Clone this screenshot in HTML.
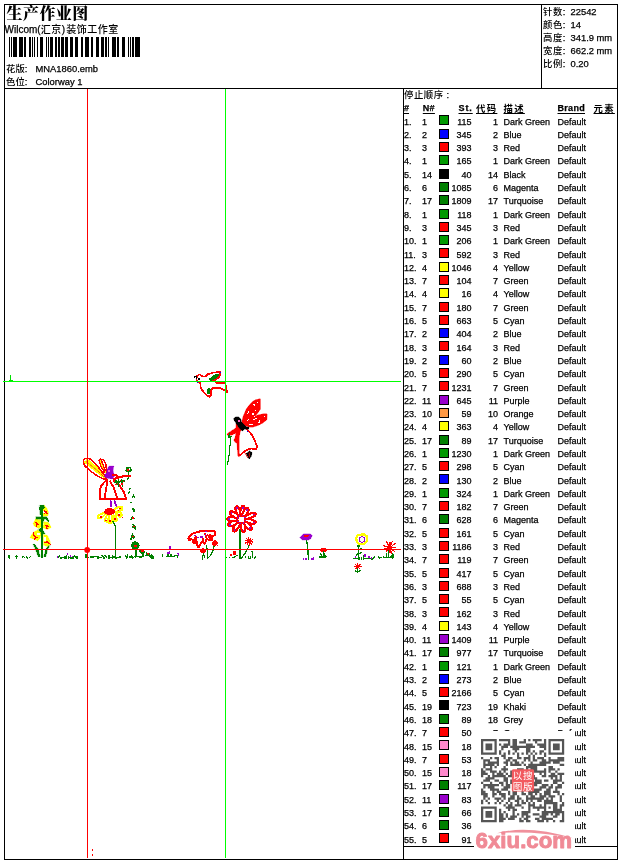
<!DOCTYPE html>
<html lang="zh"><head><meta charset="utf-8"><title>生产作业图</title>
<style>
html,body{margin:0;padding:0;background:#fff}
body{width:620px;height:860px;position:relative;overflow:hidden;font-family:"Liberation Sans","Noto Sans CJK SC",sans-serif;font-size:9px;color:#000;-webkit-text-stroke:0.25px #000}
.abs{position:absolute;white-space:nowrap;line-height:1}
.cj{font-family:"Liberation Sans","Noto Sans CJK SC",sans-serif;font-weight:500;-webkit-text-stroke:0}
.cj b{font-weight:400;font-family:"Liberation Sans",sans-serif;-webkit-text-stroke:0.25px #000}
#title{-webkit-text-stroke:0;left:6.6px;top:5.8px;font-size:16px;font-weight:900;letter-spacing:0.4px;font-family:"Liberation Serif","Noto Serif CJK SC",serif}
.r{position:absolute;left:403px;width:214px;height:13px;line-height:13px;white-space:nowrap}
.r span{position:absolute;top:0}
.c1{left:1px}.c2{left:19px}
.sw{position:absolute;left:36px;top:-0.15px;width:8px;height:8px;border:1px solid #000}
.c3{right:145.5px}.c4{right:119px}.c5{left:100.5px}.c6{left:154.5px}
.h{font-weight:bold;text-decoration:underline;text-underline-offset:2px;text-decoration-thickness:1px}
.hb{font-weight:700;letter-spacing:1.3px;font-size:9.4px;text-underline-offset:1.2px}
svg{position:absolute;left:0;top:0}
</style></head><body>
<svg width="620" height="860" viewBox="0 0 620 860">
<g shape-rendering="crispEdges" fill="#000">
<rect x="4" y="4" width="614" height="1"/><rect x="4" y="859" width="614" height="1"/>
<rect x="4" y="4" width="1" height="856"/><rect x="617" y="4" width="1" height="856"/>
<rect x="4" y="88" width="614" height="1"/><rect x="403" y="88" width="1" height="772"/>
<rect x="541" y="4" width="1" height="85"/><rect x="403" y="846" width="214" height="1"/>
<rect x="9" y="37" width="1.3" height="19.6"/><rect x="11.2" y="37" width="0.9" height="19.6"/><rect x="12.8" y="37" width="4.1" height="19.6"/><rect x="19" y="37" width="4.1" height="19.6"/><rect x="24" y="37" width="2" height="19.6"/><rect x="29" y="37" width="2" height="19.6"/><rect x="32" y="37" width="1" height="19.6"/><rect x="33.9" y="37" width="1" height="19.6"/><rect x="37" y="37" width="1" height="19.6"/><rect x="39.9" y="37" width="3" height="19.6"/><rect x="46" y="37" width="1" height="19.6"/><rect x="47.9" y="37" width="1" height="19.6"/><rect x="49.9" y="37" width="3.1" height="19.6"/><rect x="55" y="37" width="2" height="19.6"/><rect x="58.1" y="37" width="2" height="19.6"/><rect x="61.1" y="37" width="3" height="19.6"/><rect x="65.2" y="37" width="3" height="19.6"/><rect x="70.2" y="37" width="3" height="19.6"/><rect x="74.8" y="37" width="3.1" height="19.6"/><rect x="81.1" y="37" width="1.7" height="19.6"/><rect x="85" y="37" width="4" height="19.6"/><rect x="91" y="37" width="2" height="19.6"/><rect x="96.4" y="37" width="2.6" height="19.6"/><rect x="101" y="37" width="2.9" height="19.6"/><rect x="105" y="37" width="2" height="19.6"/><rect x="108" y="37" width="0.9" height="19.6"/><rect x="112.1" y="37" width="3.9" height="19.6"/><rect x="117.2" y="37" width="1.8" height="19.6"/><rect x="122.3" y="37" width="2.8" height="19.6"/><rect x="128" y="37" width="0.9" height="19.6"/><rect x="130.1" y="37" width="0.8" height="19.6"/><rect x="131.8" y="37" width="0.9" height="19.6"/><rect x="133.4" y="37" width="1" height="19.6"/><rect x="135.3" y="37" width="4.8" height="19.6"/>
</g>
<!-- BIRD -->
<g id="bird" shape-rendering="crispEdges" fill="none" stroke-linejoin="round" stroke-linecap="round">
<path d="M209.2 379.4L214.7 375L218.3 374.4L217.9 377L214 380L210.5 380.2z" fill="#008000" stroke="#008000" stroke-width="1"/>
<path d="M207.3 389.7L209.2 388.2L210.7 390L210.3 394L207.8 393.3z" fill="#008000" stroke="#008000" stroke-width="1"/>
<path d="M196.5 379.5L196.9 375.9L199.4 374.4L203.4 376.6L205.6 376.2L208.1 374.1L213.2 372.6L220.1 371.9L220.5 374.4L219 377.3L215.4 379.9L213.2 380.6M215.4 382.6L217.6 383.2L224.1 383M226.3 385.3V389.7L227.6 392.2L224.1 390L219.8 387.9H212.5L211 390.4V394.8L209.6 396.9L207.4 395.8L202.3 390.4L200.5 386.8V383.1L197.3 382.1L196.5 379.5" stroke="#ff0000" stroke-width="1.7"/>
<path d="M194.4 377.3L195.8 376.2L196.9 378.4" stroke="#000" stroke-width="1.2"/>
<rect x="198.4" y="378" width="1.6" height="1.5" fill="#000"/>
<rect x="220" y="372" width="1" height="1" fill="#0000ff"/><rect x="197" y="382" width="1" height="1" fill="#0000ff"/>
</g>
<!-- FAIRY 2 -->
<g id="fairy2" shape-rendering="crispEdges" stroke-linejoin="round" stroke-linecap="round">
<path d="M259.8 399L255.1 400.1L251.9 402.3L246.8 408.4L243.5 416L242.1 421.1L242.4 424L245 425.5L249.7 426.9H252.9L258.4 425.1L262.7 422.9L266.7 419.7L266.9 414H263.5L257.7 415.3L254.5 416.6L256.9 413.9L260 409.5z" fill="#ff0000" stroke="#ff0000" stroke-width="0.8"/>
<g fill="#fff"><rect x="257" y="402" width="1" height="1"/><rect x="253" y="404" width="2" height="1"/><rect x="254" y="405" width="1" height="1"/><rect x="255" y="410" width="1" height="1"/><rect x="248" y="411" width="1" height="2"/><rect x="247" y="413" width="1" height="1"/><rect x="252" y="413" width="2" height="2"/><rect x="254" y="416" width="1" height="1"/><rect x="264" y="416" width="1" height="1"/><rect x="255" y="418" width="2" height="1"/><rect x="253" y="419" width="2" height="1"/><rect x="248" y="419" width="1" height="1"/><rect x="247" y="420" width="1" height="1"/><rect x="259" y="420" width="1" height="3"/><rect x="258" y="422" width="1" height="1"/><rect x="249" y="424" width="4" height="1"/></g>
<path d="M236.5 423.5L238.7 426.4L240.9 430L239.8 432.9L239.1 438V452.5L240.1 455.4L239.1 456.8L238 456.1L237.6 452.5L237.2 443L235.1 442.3L234 440.1L235.4 437.2L235.8 432.9L231.4 435.1H227.4V433.6L230.7 431.4L235.8 428.2z" fill="#ff0000" stroke="#ff0000" stroke-width="0.6"/>
<path d="M246.3 428.9L248.9 431.4L252.5 435.8L255 440.9L256.8 446L256.5 449.2L251 448.5L246 450.3L239.6 455.6" fill="none" stroke="#ff0000" stroke-width="1.7"/>
<path d="M234.1 418.2L235.9 417.1H238.8L240.6 418.9L241.3 421.9L246 426.9L248.6 427.3V429.1H244.6L242.1 430.9L240.2 429.1L236.6 424L234.4 420.4z" fill="#000" stroke="#000" stroke-width="0.6"/>
<rect x="238.4" y="420" width="2" height="2" fill="#ff66cc"/>
<path d="M246.3 453.6L249.6 451L251.8 452.5L251.4 456.1L249.6 458.6L248.1 457.9z" fill="#000" stroke="#000" stroke-width="0.6"/>
<path d="M245.2 453.2L247.8 457.6M249.3 453V456.5" fill="none" stroke="#ff0000" stroke-width="0.8"/>
<path d="M229.3 433.2L228.9 437.2L230.3 437.6V444.5L229.6 447.4L229.8 451L228.9 456.1L228.5 461.2L227.4 462.6V464.8M230.5 436.5h1.2" fill="none" stroke="#008000" stroke-width="1.2"/>
<rect x="247" y="431" width="1" height="1" fill="#0000ff"/>
</g>
<!-- FAIRY 1 -->
<g id="fairy1" shape-rendering="crispEdges" stroke-linejoin="round" stroke-linecap="round" fill="none">
<path d="M85.3 461.9L104.8 477.8M87 460L103 473.5M100.5 461.5L105 472" stroke="#ffff00" stroke-width="2.6" stroke-dasharray="2.2 1.2"/>
<path d="M83.5 459.7L84.9 458.5H88.9L92.4 460.5L97.7 466.3L102.2 472.1L105.7 476.5L106.2 478.7H102.6L96.9 475.6L90.6 471.2L85.3 466.3L83.4 462.8z" stroke="#ff0000" stroke-width="1.6"/>
<path d="M86 461.5L98 471L104 477" stroke="#ff0000" stroke-width="0.8" stroke-dasharray="3 2"/>
<path d="M98.6 460.5L100.4 459.2L103.5 459.7L105.7 463.6L106.6 470.7L106.2 472.1M99.1 461L100.9 466.3L104.4 472.1M101.7 461L105.3 470.7" stroke="#ff0000" stroke-width="1.4"/>
<path d="M109.3 466.3H113.7L113 470.3L114.2 476.5L112.4 478.7L107.5 478.3L104.4 476.5L106.6 472.5L107.5 469z" fill="#9900cc" stroke="#9900cc" stroke-width="0.6"/>
<rect x="108.4" y="470" width="1.6" height="1.5" fill="#ff66cc"/>
<path d="M112.8 474.6L116.4 475.6L117 477.5M113.7 479L122.6 476.4L129.7 476" stroke="#ff0000" stroke-width="2.2"/>
<path d="M106.6 479.6L101.3 485.8L99.7 491.2L100 499.4H126.4L123.9 492L119 484.9L113.7 480.5M107.5 480.5L104.4 499.1M110.2 481.4L114.2 488.5L117.3 499.1" stroke="#ff0000" stroke-width="1.9"/>
<path d="M115 482.5L124 481M118.5 479.5V486M121.5 480L122.5 486M116 481L117 484.5" stroke="#008000" stroke-width="1.5"/>
<g fill="#ff0000"><rect x="115" y="483.5" width="1.5" height="1.5"/><rect x="121" y="482.5" width="2" height="2"/><rect x="119.5" y="480" width="1.3" height="1.3"/><rect x="123" y="480.5" width="1.3" height="1.5"/></g>
<path d="M126 470.5L127 468L130 467.5L131 469.5L130.5 471.5M126.5 471h4M128.4 471.2V474.7M128.6 478.2L127.6 479.3" stroke="#008000" stroke-width="1.6"/>
<rect x="127.2" y="469" width="2" height="1.8" fill="#ff0000"/>
<path d="M110.6 501.2L110.9 506.5M114.4 501.2L117.1 507" stroke="#9900cc" stroke-width="1.8"/>
<path d="M110.8 508h1.2M117.4 507.7h1.2" stroke="#ff9933" stroke-width="1"/>
</g>
<!-- SUNFLOWER -->
<g id="sunflower" shape-rendering="crispEdges" stroke-linejoin="round" stroke-linecap="round" fill="none">
<g stroke="#ffff00" stroke-width="2">
<path d="M105 512.5L98.5 515L97.5 518.5L101.5 518L105.5 514"/>
<path d="M107 514.5L104.5 521L108 522L109 515"/>
<path d="M109.5 515.5L109 523H111.5L112 516"/>
<path d="M113.5 515L114 521.5L117 520.5L115.5 514"/>
<path d="M115.5 512.5L119.5 517L122 515.5L120.5 512.5L116 511.5"/>
<path d="M115 509L119 506.5H122.3V509.8L117.5 511"/>
</g>
<ellipse cx="109.6" cy="511.6" rx="5.4" ry="3.4" fill="#ff0000"/>
<g fill="#ff0000"><rect x="100" y="516" width="1.8" height="1.6"/><rect x="105" y="519.5" width="2" height="1.8"/><rect x="109" y="520" width="2" height="1.8"/><rect x="114" y="518" width="2" height="1.8"/><rect x="118" y="514" width="2" height="1.8"/><rect x="119.3" y="507.5" width="1.8" height="1.6"/><rect x="122" y="517" width="1" height="1"/><rect x="118" y="510" width="1" height="1"/></g>
<path d="M112.6 521.2L115.3 525.6L115.7 530.5V556.2" stroke="#008000" stroke-width="1.3"/>
</g>
<!-- FALLING LEAVES + ROSE -->
<g id="leaves" shape-rendering="crispEdges" stroke-linecap="round" fill="none" stroke="#008000" stroke-width="1.5">
<path d="M129.3 489.3L130.3 488.5M128.4 493L129.5 492M132.3 497L133.5 495.5L134.3 496.8M130.3 502.5h1.2M132.5 508.5L134 510L134.2 511.6"/>
<path d="M131 519.5L132.5 517L134.5 518.5M131.5 518.5h3M133 524.5L135 527.5L135.5 529.5M133 527h2M131 539L132.5 534.5L134 538M131.8 537h2.5"/>
<circle cx="135.3" cy="545.6" r="3.5" fill="#008000"/>
<path d="M135.7 549V556.8M139.5 551L144.5 551.5M141 552.8h3M146.3 553L149.5 554M147 555h2.5M151.5 555L152.3 556.5" stroke-width="1.6"/>
</g>
<g fill="#ff0000" shape-rendering="crispEdges"><rect x="132.3" y="517.3" width="1.6" height="1.6"/><rect x="133.3" y="525.8" width="1.6" height="1.6"/><rect x="132" y="535.8" width="1.6" height="1.6"/><rect x="134" y="544.5" width="3" height="2.4"/><rect x="141" y="550" width="3" height="2"/><rect x="147" y="552.6" width="2.4" height="2.2"/></g>
<!-- FOXGLOVE -->
<g id="foxglove" shape-rendering="crispEdges" stroke-linejoin="round" stroke-linecap="round">
<g fill="#ffff00" stroke="#ffff00" stroke-width="0.6">
<path d="M44.2 505.2L46.6 508.1L48.6 512.9L47.8 515.7L43.4 516.1L41.4 514.5L42.2 509.7z"/>
<path d="M35.7 519L33.3 523.4L34.1 525.8L38.5 528.2L41 526.6L40.6 520.2z"/>
<path d="M44.2 521.8L48.6 522.6L51 527.4L47.4 529.4L43 527.8z"/>
<path d="M37.7 530.2L33.3 532.3L30.1 537.5L37.7 540.7L40.2 537.9L41.1 532.3z"/>
<path d="M43.8 534.7L47.4 535.5L49.8 541.1L50.6 544.4L47.4 546.4L43.8 545.2z"/>
</g>
<g fill="#fff"><rect x="43" y="510.5" width="1.6" height="2.5"/><rect x="37" y="533" width="2.5" height="2"/><rect x="44" y="537" width="2.4" height="4"/></g>
<rect x="41.4" y="505.6" width="1.7" height="52" fill="#008000"/>
<g fill="#008000" stroke="#008000" stroke-width="0.3">
<path d="M39.6 505.4H44.2L44.6 507.5L42.6 509.5L42 514.5H39.8L39.4 508z"/>
<path d="M36.2 516.5H46.4L48.8 520.5L48.4 522L45.6 519.4H44L43 523H41.5V519.4H36.2z"/>
<path d="M38.3 529.2L41.2 528L45.2 533.5L42 534.5z"/>
<path d="M33.3 544.4L34.8 544.4L38 548.5L40.3 556.5H38L36 551z"/>
<path d="M49.8 545.6L48.2 545.6L45.8 549.2L43.8 556.5H46L47.6 550z"/>
</g>
<g stroke="#ff0000" stroke-width="1.1" fill="none">
<path d="M44.4 511L45.6 512.6L44.6 513.6M46 511.5L47.2 513.8"/>
<path d="M35.6 522.4L37 523L36.6 525L36.2 527M37.6 523.6L38 524.6"/>
<path d="M45 525.2L46.6 526.2L47 528.6M47.4 525.4L48.2 526.8"/>
<path d="M33.4 533L34 535.6L36.6 537.6L37.6 537.4M34.6 539.4L35.4 538"/>
<path d="M44.4 542.7H48.2L50.4 544.4M47 541.5V542.5"/>
</g>
</g>
<!-- UMBRELLA FLOWER -->
<g id="umbrella" shape-rendering="crispEdges" stroke-linejoin="round" stroke-linecap="round" fill="none">
<path d="M188.5 538.5L189.5 536.3L192.7 533.7L198.5 531.8L203 530.5H212.7L215.3 532.1V534.4L213.3 536L211.4 536.6L212.4 538.9L211.4 540.5L208.8 540.2L207 538.5L205.6 541.8L204.3 543.7L202.4 541.1L200.4 544.4L198.5 547.3L196.9 544.4L195.6 541.5L193.6 543.4L193.3 540.5L191.4 538.9L189.5 540.2z" stroke="#ff0000" stroke-width="2"/>
<path d="M195.9 536.3L196.9 543.5M194.5 537.5L195.5 541M203 538.5L202.4 541.5M205 533.4L206.5 538M207.5 534.7L210.7 538.9M209.5 534.5L211.4 536.6" stroke="#ff0000" stroke-width="1.8"/>
<path d="M194 535.3h1.6M197.2 537.3h1.6M200.4 537h2.8M205.5 531.8h1.2M205.3 534v1.6" stroke="#9900cc" stroke-width="1.1"/>
<circle cx="214.9" cy="543.1" r="2.7" fill="#ff0000"/><rect x="217" y="545" width="1.2" height="1.2" fill="#ff0000"/>
<ellipse cx="203" cy="550.8" rx="3" ry="2.4" fill="#ff0000"/>
<path d="M206.5 545.6L207.5 550.8L207.8 555.3L207.5 558.5M214 546.3L213 550.8L210.7 555.3L208.8 557.3M203.3 553.4L204.9 557.9M202.4 556V559.8" stroke="#008000" stroke-width="1.2"/>
</g>
<!-- DAISY -->
<g id="daisy" shape-rendering="crispEdges">
<rect x="239.3" y="529" width="1.4" height="29.5" fill="#008000"/>
<g fill="#fff" stroke="#ff0000" stroke-width="2.2"><ellipse cx="238.2" cy="511.4" rx="5.4" ry="2.1" transform="rotate(-112 238.2 511.4)"/><ellipse cx="242.5" cy="511.1" rx="5.2" ry="2.1" transform="rotate(-82 242.5 511.1)"/><ellipse cx="245.4" cy="512.4" rx="4.9" ry="2.1" transform="rotate(-60 245.4 512.4)"/><ellipse cx="250.0" cy="516.0" rx="6.1" ry="2.1" transform="rotate(-21 250.0 516.0)"/><ellipse cx="250.1" cy="521.4" rx="5.8" ry="2.1" transform="rotate(13 250.1 521.4)"/><ellipse cx="247.5" cy="525.5" rx="5.5" ry="2.1" transform="rotate(45 247.5 525.5)"/><ellipse cx="243.0" cy="527.3" rx="4.9" ry="2.1" transform="rotate(79 243.0 527.3)"/><ellipse cx="236.6" cy="526.6" rx="5.5" ry="2.1" transform="rotate(123 236.6 526.6)"/><ellipse cx="233.3" cy="523.2" rx="5.7" ry="2.1" transform="rotate(155 233.3 523.2)"/><ellipse cx="232.8" cy="519.1" rx="5.5" ry="2.1" transform="rotate(-178 232.8 519.1)"/><ellipse cx="234.3" cy="514.8" rx="5.3" ry="2.1" transform="rotate(-147 234.3 514.8)"/></g>
<circle cx="241.4" cy="519.4" r="4.1" fill="#fff" stroke="#ff0000" stroke-width="2.4"/>
<g fill="#9900cc"><rect x="236.1" y="507.3" width="1.6" height="1.6"/><rect x="242.2" y="506.9" width="1.6" height="1.6"/><rect x="246.1" y="508.9" width="1.6" height="1.6"/><rect x="253.2" y="513.7" width="1.6" height="1.6"/><rect x="253.2" y="521.5" width="1.6" height="1.6"/><rect x="249.3" y="527.3" width="1.6" height="1.6"/><rect x="242.8" y="529.5" width="1.6" height="1.6"/><rect x="233.8" y="528.9" width="1.6" height="1.6"/><rect x="229.0" y="524.0" width="1.6" height="1.6"/><rect x="228.3" y="518.2" width="1.6" height="1.6"/><rect x="230.6" y="512.1" width="1.6" height="1.6"/><rect x="244.5" y="519.8" width="1.6" height="1.6"/><rect x="242.5" y="522.2" width="1.6" height="1.6"/><rect x="239.4" y="522.5" width="1.6" height="1.6"/><rect x="237.0" y="520.5" width="1.6" height="1.6"/><rect x="236.7" y="517.4" width="1.6" height="1.6"/><rect x="238.7" y="515.0" width="1.6" height="1.6"/><rect x="241.8" y="514.7" width="1.6" height="1.6"/><rect x="244.2" y="516.7" width="1.6" height="1.6"/></g>
<circle cx="249.1" cy="541.3" r="2.2" fill="#ff0000"/>
<path d="M249.1 541.3L253.5 542.2M249.1 541.3L252.1 544.6M249.1 541.3L249.6 545.8M249.1 541.3L246.9 545.2M249.1 541.3L245.0 543.2M249.1 541.3L244.7 540.4M249.1 541.3L246.1 538.0M249.1 541.3L248.6 536.8M249.1 541.3L251.3 537.4M249.1 541.3L253.2 539.4" stroke="#ff0000" stroke-width="1.0" fill="none"/>
<path d="M248.8 545.2L247.8 548.7L244.3 554.5L241 558.4" stroke="#008000" stroke-width="1.2" fill="none"/>
<rect x="233.2" y="550.8" width="2.4" height="3.8" fill="#ff0000"/><rect x="230" y="553.8" width="2" height="2.2" fill="#ff0000"/>
<path d="M226.5 557v1.4M229.5 557v1.4M231.5 557.3h3M234.5 556.8L238.5 554.8M245.3 556v2.4M248.5 556v2h2v-2M251 551.2h1.7v7.2M254.6 556.5v2M255.9 555.5v2.5" stroke="#008000" stroke-width="1" fill="none"/>
</g>
<!-- RIGHT FLOWERS -->
<g id="right" shape-rendering="crispEdges" stroke-linejoin="round" stroke-linecap="round" fill="none">
<path d="M306.6 540.2L307.3 544.4L307.9 549.5L308.4 559.8" stroke="#008000" stroke-width="1.3"/>
<path d="M300.2 537.3L303.4 534H310.5L312.1 535.6L310.5 538.9L308.9 539.8H302.4z" fill="#9900cc" stroke="#9900cc" stroke-width="0.5"/>
<path d="M303.1 537L304.7 535.3H308.9L307.6 537z" fill="#ff0000"/>
<g fill="#9900cc"><rect x="303" y="558" width="1" height="2"/><rect x="305" y="557.6" width="2" height="2"/><rect x="310.5" y="557.8" width="3" height="1.8"/><rect x="313" y="557" width="1.2" height="1.2"/></g>
<path d="M319.5 549L323.4 547.5L327.5 549L325.5 552.3H321.3z" fill="#ff0000"/>
<path d="M323.4 551.8V557.3M319.5 556.8H326M320.5 553.4L321.8 556M324.7 554L325 556.5" stroke="#008000" stroke-width="1.4"/>
<path d="M358.3 545.3V559M357.2 545.3L358.3 547.5L359.4 545.3M361 548.4h.8M360 553.5L361.4 552.4M356 555L357.5 554.2" stroke="#008000" stroke-width="1.4"/>
<path d="M361.5 534.5L357.5 535L356.2 538L356.8 542L360 544.3L364 544.3L367 541L367 536.5L364.5 534.6z" stroke="#ffff00" stroke-width="2.2" fill="#fff"/>
<circle cx="361.9" cy="539.5" r="2.7" stroke="#9900cc" stroke-width="1.2" stroke-dasharray="3.2 1.2"/>
<path d="M353.4 558.2h4.5M359.5 557.8v1.6M361.5 557.5v2M363.5 556v3M365 558.5h2.5M368 558.8h3.5M372 559.2L374.8 557M378.3 556.5L379.5 558L381 557.5M383.2 556.4v1M384 557.8H393M386.7 553.7V557.5M388.5 551.1V557.5M392.9 553.7V558M390.5 556.5L392.5 555" stroke="#008000" stroke-width="1.3"/>
<g fill="#9900cc"><rect x="355" y="556" width="1.2" height="2"/><rect x="364" y="553.8" width="1.6" height="3"/><rect x="368.2" y="556" width="2" height="2"/><rect x="370.5" y="557" width="1.6" height="1.6"/></g>
<path d="M389.7 547.7L386.5 541.3M389.7 547.7L392.3 541.3M389.7 547.7L395.5 543.2M389.7 547.7L395.5 547.4M389.7 547.7L394.8 551.6M389.7 547.7L391.6 553.5M389.7 547.7L386.5 551.3M389.7 547.7L383.2 545.5M389.7 547.7L384 549.2" stroke="#ff0000" stroke-width="1.1" fill="none"/><path d="M389.7 543V552.5" stroke="#ff0000" stroke-width="2"/>
<circle cx="357.7" cy="566.6" r="1.6" fill="#ff0000"/>
<path d="M357.7 566.6L361.3 566.6M357.7 566.6L360.2 569.1M357.7 566.6L357.7 570.2M357.7 566.6L355.2 569.1M357.7 566.6L354.1 566.6M357.7 566.6L355.2 564.1M357.7 566.6L357.7 563.0M357.7 566.6L360.2 564.1" stroke="#ff0000" stroke-width="1.0" fill="none"/>
<path d="M357.7 568.8L357.4 572.4M355.2 570.6L357.4 572.4L360.5 570.6" stroke="#008000" stroke-width="1.2"/>
</g>
<!-- GRASS LEFT -->
<g id="grass" shape-rendering="crispEdges" stroke-linecap="round" fill="none" stroke="#008000" stroke-width="1.5">
<path d="M8.5 555v3M9.8 555v3M8.5 555h1.3M8.5 558h1.3M15.5 556.5h2M16.5 555v3.5M21.5 556h2M22.5 556v1.6M24 557.5h.8M26 556.2v2M27.5 557v1.2M29.5 557.5L30.8 556" stroke-width="1"/>
<path d="M58 557L59.5 555.8M60.5 557.8h1M63 557.6h1M65 557v1M66.5 555.5v2.5M68.5 556.5v1.5M70 557.8h2M73 556.5v1.5M74.5 556L76 557.8M77 556.5v1.5"/>
<path d="M85.8 554.5v3M86.6 555L88 557.5M91 557h2.5M94 556.5h2.5M98 556.2v1.8M100 557.5h1M102 555.5L104 558M105 555.5L106.5 557.5M109 555.5v3M110.3 557.5h1.5M112.5 555.5v2.5M114 557h1.5M116 558.2L118 557.2M119.5 557.2h1"/>
<path d="M125.5 555.5L127 558M127.5 555.2v1M129.5 557h1.5M131.5 555.8L133 558M134.5 556.5h3M139 556.8h3M143 555v1M146 555.5L147.5 554.5M150 556L151.5 558.2M153 557v1.2"/>
<path d="M162.6 555.2v1.5M166.5 556.3h7.5M168 555v1.5M171 555v1.5M175 555.6h1.5M177.3 555.5v1.5"/>
</g>
<g fill="#9900cc" shape-rendering="crispEdges"><rect x="57" y="556.3" width="1.3" height="1.3"/><rect x="66.5" y="552.5" width="1.3" height="2.5"/><rect x="69.5" y="555" width="1.6" height="1.6"/><rect x="72" y="555.5" width="1.3" height="1.3"/><rect x="169.3" y="546" width="1.3" height="3.2"/><rect x="167.4" y="551.6" width="3" height="2.6"/><rect x="168.5" y="550.5" width="1.5" height="1.5"/><rect x="177" y="552.6" width="2" height="1.3"/><rect x="177.6" y="553.5" width="1.4" height="2"/></g>
<g shape-rendering="crispEdges">
<rect x="3" y="381" width="398" height="1" fill="#00ff00"/>
<rect x="225" y="89" width="1" height="769" fill="#00ff00"/>
<rect x="87" y="89" width="1" height="769" fill="#ff0000"/>
<rect x="3" y="549" width="398" height="1" fill="#ff0000"/>
<path d="M10.5 375v5M9 380.5h4" stroke="#00dd00" stroke-width="1" fill="none"/>
<rect x="92" y="849" width="1" height="2" fill="#ff0000"/><rect x="92" y="854" width="1" height="2" fill="#ff0000"/>
<circle cx="87.2" cy="550" r="2.9" fill="#ff0000" shape-rendering="auto"/>
</g>

</svg>
<div id="title" class="abs">生产作业图</div>
<div class="abs cj" style="left:4.6px;top:25px;font-size:10px"><b>Wilcom(</b><span style="letter-spacing:0.5px">汇京</span><b>)</b><span style="letter-spacing:0.5px;margin-left:1.2px">装饰工作室</span></div>
<div class="abs cj" style="left:6px;top:63.5px;font-size:9.4px">花版<b>:</b></div><div class="abs" style="left:35.5px;top:64.3px;font-size:9.4px">MNA1860.emb</div>
<div class="abs cj" style="left:6px;top:76.5px;font-size:9.4px">色位<b>:</b></div><div class="abs" style="left:35.5px;top:77.3px;font-size:9.4px">Colorway 1</div>
<div class="abs cj" style="left:543px;top:7px;font-size:9.4px;letter-spacing:0.5px">针数<b>:</b></div><div class="abs" style="left:570.5px;top:7.3px;font-size:9.4px">22542</div>
<div class="abs cj" style="left:543px;top:20px;font-size:9.4px;letter-spacing:0.5px">颜色<b>:</b></div><div class="abs" style="left:570.5px;top:20.3px;font-size:9.4px">14</div>
<div class="abs cj" style="left:543px;top:33px;font-size:9.4px;letter-spacing:0.5px">高度<b>:</b></div><div class="abs" style="left:570.5px;top:33.3px;font-size:9.4px">341.9 mm</div>
<div class="abs cj" style="left:543px;top:46px;font-size:9.4px;letter-spacing:0.5px">宽度<b>:</b></div><div class="abs" style="left:570.5px;top:46.3px;font-size:9.4px">662.2 mm</div>
<div class="abs cj" style="left:543px;top:59px;font-size:9.4px;letter-spacing:0.5px">比例<b>:</b></div><div class="abs" style="left:570.5px;top:59.3px;font-size:9.4px">0.20</div>
<div class="abs cj" style="left:404px;top:90px;font-size:9.4px;letter-spacing:0.5px">停止顺序<b> :</b></div>
<div class="abs h" style="left:404px;top:104.3px">#</div>
<div class="abs h" style="left:422.8px;top:104.3px;letter-spacing:0.3px">N#</div>
<div class="abs h" style="left:458.5px;top:104.3px;letter-spacing:0.9px">St.</div>
<div class="abs h cj hb" style="left:476px;top:103.5px">代码</div>
<div class="abs h cj hb" style="left:503.5px;top:103.5px">描述</div>
<div class="abs h" style="left:557.5px;top:104.3px;letter-spacing:0.3px">Brand</div>
<div class="abs h cj hb" style="left:593.5px;top:103.5px">元素</div>
<div class="r" style="top:115.6px"><span class="c1">1.</span><span class="c2">1</span><i class="sw" style="background:#009900"></i><span class="c3">115</span><span class="c4">1</span><span class="c5">Dark Green</span><span class="c6">Default</span></div>
<div class="r" style="top:128.9px"><span class="c1">2.</span><span class="c2">2</span><i class="sw" style="background:#0000ff"></i><span class="c3">345</span><span class="c4">2</span><span class="c5">Blue</span><span class="c6">Default</span></div>
<div class="r" style="top:142.19px"><span class="c1">3.</span><span class="c2">3</span><i class="sw" style="background:#ff0000"></i><span class="c3">393</span><span class="c4">3</span><span class="c5">Red</span><span class="c6">Default</span></div>
<div class="r" style="top:155.49px"><span class="c1">4.</span><span class="c2">1</span><i class="sw" style="background:#009900"></i><span class="c3">165</span><span class="c4">1</span><span class="c5">Dark Green</span><span class="c6">Default</span></div>
<div class="r" style="top:168.78px"><span class="c1">5.</span><span class="c2">14</span><i class="sw" style="background:#000000"></i><span class="c3">40</span><span class="c4">14</span><span class="c5">Black</span><span class="c6">Default</span></div>
<div class="r" style="top:182.08px"><span class="c1">6.</span><span class="c2">6</span><i class="sw" style="background:#008000"></i><span class="c3">1085</span><span class="c4">6</span><span class="c5">Magenta</span><span class="c6">Default</span></div>
<div class="r" style="top:195.38px"><span class="c1">7.</span><span class="c2">17</span><i class="sw" style="background:#008000"></i><span class="c3">1809</span><span class="c4">17</span><span class="c5">Turquoise</span><span class="c6">Default</span></div>
<div class="r" style="top:208.67px"><span class="c1">8.</span><span class="c2">1</span><i class="sw" style="background:#009900"></i><span class="c3">118</span><span class="c4">1</span><span class="c5">Dark Green</span><span class="c6">Default</span></div>
<div class="r" style="top:221.97px"><span class="c1">9.</span><span class="c2">3</span><i class="sw" style="background:#ff0000"></i><span class="c3">345</span><span class="c4">3</span><span class="c5">Red</span><span class="c6">Default</span></div>
<div class="r" style="top:235.26px"><span class="c1">10.</span><span class="c2">1</span><i class="sw" style="background:#009900"></i><span class="c3">206</span><span class="c4">1</span><span class="c5">Dark Green</span><span class="c6">Default</span></div>
<div class="r" style="top:248.56px"><span class="c1">11.</span><span class="c2">3</span><i class="sw" style="background:#ff0000"></i><span class="c3">592</span><span class="c4">3</span><span class="c5">Red</span><span class="c6">Default</span></div>
<div class="r" style="top:261.86px"><span class="c1">12.</span><span class="c2">4</span><i class="sw" style="background:#ffff00"></i><span class="c3">1046</span><span class="c4">4</span><span class="c5">Yellow</span><span class="c6">Default</span></div>
<div class="r" style="top:275.15px"><span class="c1">13.</span><span class="c2">7</span><i class="sw" style="background:#ff0000"></i><span class="c3">104</span><span class="c4">7</span><span class="c5">Green</span><span class="c6">Default</span></div>
<div class="r" style="top:288.45px"><span class="c1">14.</span><span class="c2">4</span><i class="sw" style="background:#ffff00"></i><span class="c3">16</span><span class="c4">4</span><span class="c5">Yellow</span><span class="c6">Default</span></div>
<div class="r" style="top:301.74px"><span class="c1">15.</span><span class="c2">7</span><i class="sw" style="background:#ff0000"></i><span class="c3">180</span><span class="c4">7</span><span class="c5">Green</span><span class="c6">Default</span></div>
<div class="r" style="top:315.04px"><span class="c1">16.</span><span class="c2">5</span><i class="sw" style="background:#ff0000"></i><span class="c3">663</span><span class="c4">5</span><span class="c5">Cyan</span><span class="c6">Default</span></div>
<div class="r" style="top:328.34px"><span class="c1">17.</span><span class="c2">2</span><i class="sw" style="background:#0000ff"></i><span class="c3">404</span><span class="c4">2</span><span class="c5">Blue</span><span class="c6">Default</span></div>
<div class="r" style="top:341.63px"><span class="c1">18.</span><span class="c2">3</span><i class="sw" style="background:#ff0000"></i><span class="c3">164</span><span class="c4">3</span><span class="c5">Red</span><span class="c6">Default</span></div>
<div class="r" style="top:354.93px"><span class="c1">19.</span><span class="c2">2</span><i class="sw" style="background:#0000ff"></i><span class="c3">60</span><span class="c4">2</span><span class="c5">Blue</span><span class="c6">Default</span></div>
<div class="r" style="top:368.22px"><span class="c1">20.</span><span class="c2">5</span><i class="sw" style="background:#ff0000"></i><span class="c3">290</span><span class="c4">5</span><span class="c5">Cyan</span><span class="c6">Default</span></div>
<div class="r" style="top:381.52px"><span class="c1">21.</span><span class="c2">7</span><i class="sw" style="background:#ff0000"></i><span class="c3">1231</span><span class="c4">7</span><span class="c5">Green</span><span class="c6">Default</span></div>
<div class="r" style="top:394.82px"><span class="c1">22.</span><span class="c2">11</span><i class="sw" style="background:#9900cc"></i><span class="c3">645</span><span class="c4">11</span><span class="c5">Purple</span><span class="c6">Default</span></div>
<div class="r" style="top:408.11px"><span class="c1">23.</span><span class="c2">10</span><i class="sw" style="background:#ff9944"></i><span class="c3">59</span><span class="c4">10</span><span class="c5">Orange</span><span class="c6">Default</span></div>
<div class="r" style="top:421.41px"><span class="c1">24.</span><span class="c2">4</span><i class="sw" style="background:#ffff00"></i><span class="c3">363</span><span class="c4">4</span><span class="c5">Yellow</span><span class="c6">Default</span></div>
<div class="r" style="top:434.7px"><span class="c1">25.</span><span class="c2">17</span><i class="sw" style="background:#008000"></i><span class="c3">89</span><span class="c4">17</span><span class="c5">Turquoise</span><span class="c6">Default</span></div>
<div class="r" style="top:448.0px"><span class="c1">26.</span><span class="c2">1</span><i class="sw" style="background:#009900"></i><span class="c3">1230</span><span class="c4">1</span><span class="c5">Dark Green</span><span class="c6">Default</span></div>
<div class="r" style="top:461.3px"><span class="c1">27.</span><span class="c2">5</span><i class="sw" style="background:#ff0000"></i><span class="c3">298</span><span class="c4">5</span><span class="c5">Cyan</span><span class="c6">Default</span></div>
<div class="r" style="top:474.59px"><span class="c1">28.</span><span class="c2">2</span><i class="sw" style="background:#0000ff"></i><span class="c3">130</span><span class="c4">2</span><span class="c5">Blue</span><span class="c6">Default</span></div>
<div class="r" style="top:487.89px"><span class="c1">29.</span><span class="c2">1</span><i class="sw" style="background:#009900"></i><span class="c3">324</span><span class="c4">1</span><span class="c5">Dark Green</span><span class="c6">Default</span></div>
<div class="r" style="top:501.18px"><span class="c1">30.</span><span class="c2">7</span><i class="sw" style="background:#ff0000"></i><span class="c3">182</span><span class="c4">7</span><span class="c5">Green</span><span class="c6">Default</span></div>
<div class="r" style="top:514.48px"><span class="c1">31.</span><span class="c2">6</span><i class="sw" style="background:#008000"></i><span class="c3">628</span><span class="c4">6</span><span class="c5">Magenta</span><span class="c6">Default</span></div>
<div class="r" style="top:527.78px"><span class="c1">32.</span><span class="c2">5</span><i class="sw" style="background:#ff0000"></i><span class="c3">161</span><span class="c4">5</span><span class="c5">Cyan</span><span class="c6">Default</span></div>
<div class="r" style="top:541.07px"><span class="c1">33.</span><span class="c2">3</span><i class="sw" style="background:#ff0000"></i><span class="c3">1186</span><span class="c4">3</span><span class="c5">Red</span><span class="c6">Default</span></div>
<div class="r" style="top:554.37px"><span class="c1">34.</span><span class="c2">7</span><i class="sw" style="background:#ff0000"></i><span class="c3">119</span><span class="c4">7</span><span class="c5">Green</span><span class="c6">Default</span></div>
<div class="r" style="top:567.66px"><span class="c1">35.</span><span class="c2">5</span><i class="sw" style="background:#ff0000"></i><span class="c3">417</span><span class="c4">5</span><span class="c5">Cyan</span><span class="c6">Default</span></div>
<div class="r" style="top:580.96px"><span class="c1">36.</span><span class="c2">3</span><i class="sw" style="background:#ff0000"></i><span class="c3">688</span><span class="c4">3</span><span class="c5">Red</span><span class="c6">Default</span></div>
<div class="r" style="top:594.26px"><span class="c1">37.</span><span class="c2">5</span><i class="sw" style="background:#ff0000"></i><span class="c3">55</span><span class="c4">5</span><span class="c5">Cyan</span><span class="c6">Default</span></div>
<div class="r" style="top:607.55px"><span class="c1">38.</span><span class="c2">3</span><i class="sw" style="background:#ff0000"></i><span class="c3">162</span><span class="c4">3</span><span class="c5">Red</span><span class="c6">Default</span></div>
<div class="r" style="top:620.85px"><span class="c1">39.</span><span class="c2">4</span><i class="sw" style="background:#ffff00"></i><span class="c3">143</span><span class="c4">4</span><span class="c5">Yellow</span><span class="c6">Default</span></div>
<div class="r" style="top:634.14px"><span class="c1">40.</span><span class="c2">11</span><i class="sw" style="background:#9900cc"></i><span class="c3">1409</span><span class="c4">11</span><span class="c5">Purple</span><span class="c6">Default</span></div>
<div class="r" style="top:647.44px"><span class="c1">41.</span><span class="c2">17</span><i class="sw" style="background:#008000"></i><span class="c3">977</span><span class="c4">17</span><span class="c5">Turquoise</span><span class="c6">Default</span></div>
<div class="r" style="top:660.74px"><span class="c1">42.</span><span class="c2">1</span><i class="sw" style="background:#009900"></i><span class="c3">121</span><span class="c4">1</span><span class="c5">Dark Green</span><span class="c6">Default</span></div>
<div class="r" style="top:674.03px"><span class="c1">43.</span><span class="c2">2</span><i class="sw" style="background:#0000ff"></i><span class="c3">273</span><span class="c4">2</span><span class="c5">Blue</span><span class="c6">Default</span></div>
<div class="r" style="top:687.33px"><span class="c1">44.</span><span class="c2">5</span><i class="sw" style="background:#ff0000"></i><span class="c3">2166</span><span class="c4">5</span><span class="c5">Cyan</span><span class="c6">Default</span></div>
<div class="r" style="top:700.62px"><span class="c1">45.</span><span class="c2">19</span><i class="sw" style="background:#000000"></i><span class="c3">723</span><span class="c4">19</span><span class="c5">Khaki</span><span class="c6">Default</span></div>
<div class="r" style="top:713.92px"><span class="c1">46.</span><span class="c2">18</span><i class="sw" style="background:#008000"></i><span class="c3">89</span><span class="c4">18</span><span class="c5">Grey</span><span class="c6">Default</span></div>
<div class="r" style="top:727.22px"><span class="c1">47.</span><span class="c2">7</span><i class="sw" style="background:#ff0000"></i><span class="c3">50</span><span class="c4">7</span><span class="c5">Green</span><span class="c6">Default</span></div>
<div class="r" style="top:740.51px"><span class="c1">48.</span><span class="c2">15</span><i class="sw" style="background:#ff88cc"></i><span class="c3">18</span><span class="c4">15</span><span class="c5">Pink</span><span class="c6">Default</span></div>
<div class="r" style="top:753.81px"><span class="c1">49.</span><span class="c2">7</span><i class="sw" style="background:#ff0000"></i><span class="c3">53</span><span class="c4">7</span><span class="c5">Green</span><span class="c6">Default</span></div>
<div class="r" style="top:767.1px"><span class="c1">50.</span><span class="c2">15</span><i class="sw" style="background:#ff88cc"></i><span class="c3">18</span><span class="c4">15</span><span class="c5">Pink</span><span class="c6">Default</span></div>
<div class="r" style="top:780.4px"><span class="c1">51.</span><span class="c2">17</span><i class="sw" style="background:#008000"></i><span class="c3">117</span><span class="c4">17</span><span class="c5">Turquoise</span><span class="c6">Default</span></div>
<div class="r" style="top:793.7px"><span class="c1">52.</span><span class="c2">11</span><i class="sw" style="background:#9900cc"></i><span class="c3">83</span><span class="c4">11</span><span class="c5">Purple</span><span class="c6">Default</span></div>
<div class="r" style="top:806.99px"><span class="c1">53.</span><span class="c2">17</span><i class="sw" style="background:#008000"></i><span class="c3">66</span><span class="c4">17</span><span class="c5">Turquoise</span><span class="c6">Default</span></div>
<div class="r" style="top:820.29px"><span class="c1">54.</span><span class="c2">6</span><i class="sw" style="background:#008000"></i><span class="c3">36</span><span class="c4">6</span><span class="c5">Magenta</span><span class="c6">Default</span></div>
<div class="r" style="top:833.58px"><span class="c1">55.</span><span class="c2">5</span><i class="sw" style="background:#ff0000"></i><span class="c3">91</span><span class="c4">5</span><span class="c5">Cyan</span><span class="c6">Default</span></div>
<div class="abs" style="left:474px;top:730.5px;width:101px;height:120px;background:#fff"></div>
<svg width="620" height="860" viewBox="0 0 620 860">
<path d="M481.00 739.00h15.74v2.30h-15.74zM498.99 739.00h11.24v2.30h-11.24zM512.48 739.00h4.50v2.30h-4.50zM523.72 739.00h2.25v2.30h-2.25zM528.22 739.00h2.25v2.30h-2.25zM532.72 739.00h8.99v2.30h-8.99zM543.96 739.00h2.25v2.30h-2.25zM548.46 739.00h15.74v2.30h-15.74zM481.00 741.25h2.25v2.30h-2.25zM494.49 741.25h2.25v2.30h-2.25zM507.98 741.25h2.25v2.30h-2.25zM512.48 741.25h4.50v2.30h-4.50zM519.23 741.25h6.75v2.30h-6.75zM534.97 741.25h2.25v2.30h-2.25zM543.96 741.25h2.25v2.30h-2.25zM548.46 741.25h2.25v2.30h-2.25zM561.95 741.25h2.25v2.30h-2.25zM481.00 743.50h2.25v2.30h-2.25zM485.50 743.50h6.75v2.30h-6.75zM494.49 743.50h2.25v2.30h-2.25zM498.99 743.50h2.25v2.30h-2.25zM503.49 743.50h6.75v2.30h-6.75zM512.48 743.50h4.50v2.30h-4.50zM525.97 743.50h6.75v2.30h-6.75zM537.22 743.50h8.99v2.30h-8.99zM548.46 743.50h2.25v2.30h-2.25zM552.96 743.50h6.75v2.30h-6.75zM561.95 743.50h2.25v2.30h-2.25zM481.00 745.75h2.25v2.30h-2.25zM485.50 745.75h6.75v2.30h-6.75zM494.49 745.75h2.25v2.30h-2.25zM501.24 745.75h6.75v2.30h-6.75zM510.23 745.75h24.74v2.30h-24.74zM539.46 745.75h6.75v2.30h-6.75zM548.46 745.75h2.25v2.30h-2.25zM552.96 745.75h6.75v2.30h-6.75zM561.95 745.75h2.25v2.30h-2.25zM481.00 747.99h2.25v2.30h-2.25zM485.50 747.99h6.75v2.30h-6.75zM494.49 747.99h2.25v2.30h-2.25zM501.24 747.99h2.25v2.30h-2.25zM512.48 747.99h6.75v2.30h-6.75zM525.97 747.99h4.50v2.30h-4.50zM543.96 747.99h2.25v2.30h-2.25zM548.46 747.99h2.25v2.30h-2.25zM552.96 747.99h6.75v2.30h-6.75zM561.95 747.99h2.25v2.30h-2.25zM481.00 750.24h2.25v2.30h-2.25zM494.49 750.24h2.25v2.30h-2.25zM498.99 750.24h2.25v2.30h-2.25zM507.98 750.24h2.25v2.30h-2.25zM514.73 750.24h2.25v2.30h-2.25zM525.97 750.24h4.50v2.30h-4.50zM532.72 750.24h2.25v2.30h-2.25zM539.46 750.24h4.50v2.30h-4.50zM548.46 750.24h2.25v2.30h-2.25zM561.95 750.24h2.25v2.30h-2.25zM481.00 752.49h15.74v2.30h-15.74zM498.99 752.49h2.25v2.30h-2.25zM503.49 752.49h2.25v2.30h-2.25zM507.98 752.49h2.25v2.30h-2.25zM512.48 752.49h2.25v2.30h-2.25zM516.98 752.49h2.25v2.30h-2.25zM521.48 752.49h2.25v2.30h-2.25zM525.97 752.49h2.25v2.30h-2.25zM530.47 752.49h2.25v2.30h-2.25zM534.97 752.49h2.25v2.30h-2.25zM539.46 752.49h2.25v2.30h-2.25zM543.96 752.49h2.25v2.30h-2.25zM548.46 752.49h15.74v2.30h-15.74zM501.24 754.74h4.50v2.30h-4.50zM516.98 754.74h2.25v2.30h-2.25zM528.22 754.74h2.25v2.30h-2.25zM532.72 754.74h2.25v2.30h-2.25zM543.96 754.74h2.25v2.30h-2.25zM481.00 756.99h2.25v2.30h-2.25zM489.99 756.99h2.25v2.30h-2.25zM494.49 756.99h4.50v2.30h-4.50zM503.49 756.99h2.25v2.30h-2.25zM507.98 756.99h4.50v2.30h-4.50zM516.98 756.99h4.50v2.30h-4.50zM523.72 756.99h6.75v2.30h-6.75zM532.72 756.99h2.25v2.30h-2.25zM537.22 756.99h6.75v2.30h-6.75zM548.46 756.99h2.25v2.30h-2.25zM557.45 756.99h6.75v2.30h-6.75zM483.25 759.24h6.75v2.30h-6.75zM496.74 759.24h2.25v2.30h-2.25zM505.74 759.24h4.50v2.30h-4.50zM512.48 759.24h4.50v2.30h-4.50zM523.72 759.24h2.25v2.30h-2.25zM528.22 759.24h2.25v2.30h-2.25zM532.72 759.24h4.50v2.30h-4.50zM541.71 759.24h4.50v2.30h-4.50zM548.46 759.24h15.74v2.30h-15.74zM483.25 761.49h2.25v2.30h-2.25zM487.75 761.49h11.24v2.30h-11.24zM503.49 761.49h4.50v2.30h-4.50zM510.23 761.49h2.25v2.30h-2.25zM514.73 761.49h4.50v2.30h-4.50zM521.48 761.49h2.25v2.30h-2.25zM530.47 761.49h2.25v2.30h-2.25zM539.46 761.49h11.24v2.30h-11.24zM552.96 761.49h6.75v2.30h-6.75zM483.25 763.74h11.24v2.30h-11.24zM496.74 763.74h2.25v2.30h-2.25zM505.74 763.74h2.25v2.30h-2.25zM510.23 763.74h11.24v2.30h-11.24zM523.72 763.74h2.25v2.30h-2.25zM528.22 763.74h17.99v2.30h-17.99zM559.70 763.74h4.50v2.30h-4.50zM483.25 765.98h2.25v2.30h-2.25zM489.99 765.98h2.25v2.30h-2.25zM494.49 765.98h2.25v2.30h-2.25zM503.49 765.98h2.25v2.30h-2.25zM525.97 765.98h11.24v2.30h-11.24zM548.46 765.98h4.50v2.30h-4.50zM481.00 768.23h2.25v2.30h-2.25zM485.50 768.23h6.75v2.30h-6.75zM501.24 768.23h6.75v2.30h-6.75zM516.98 768.23h6.75v2.30h-6.75zM525.97 768.23h2.25v2.30h-2.25zM530.47 768.23h6.75v2.30h-6.75zM543.96 768.23h2.25v2.30h-2.25zM548.46 768.23h6.75v2.30h-6.75zM557.45 768.23h2.25v2.30h-2.25zM481.00 770.48h4.50v2.30h-4.50zM489.99 770.48h6.75v2.30h-6.75zM498.99 770.48h2.25v2.30h-2.25zM503.49 770.48h2.25v2.30h-2.25zM510.23 770.48h2.25v2.30h-2.25zM521.48 770.48h2.25v2.30h-2.25zM525.97 770.48h20.24v2.30h-20.24zM548.46 770.48h2.25v2.30h-2.25zM555.21 770.48h2.25v2.30h-2.25zM481.00 772.73h6.75v2.30h-6.75zM492.24 772.73h2.25v2.30h-2.25zM496.74 772.73h6.75v2.30h-6.75zM505.74 772.73h2.25v2.30h-2.25zM510.23 772.73h4.50v2.30h-4.50zM516.98 772.73h4.50v2.30h-4.50zM539.46 772.73h2.25v2.30h-2.25zM543.96 772.73h2.25v2.30h-2.25zM550.71 772.73h4.50v2.30h-4.50zM557.45 772.73h6.75v2.30h-6.75zM481.00 774.98h2.25v2.30h-2.25zM487.75 774.98h2.25v2.30h-2.25zM492.24 774.98h13.49v2.30h-13.49zM507.98 774.98h4.50v2.30h-4.50zM516.98 774.98h17.99v2.30h-17.99zM541.71 774.98h4.50v2.30h-4.50zM548.46 774.98h8.99v2.30h-8.99zM559.70 774.98h2.25v2.30h-2.25zM485.50 777.23h8.99v2.30h-8.99zM503.49 777.23h4.50v2.30h-4.50zM512.48 777.23h2.25v2.30h-2.25zM516.98 777.23h4.50v2.30h-4.50zM530.47 777.23h6.75v2.30h-6.75zM550.71 777.23h2.25v2.30h-2.25zM555.21 777.23h2.25v2.30h-2.25zM559.70 777.23h2.25v2.30h-2.25zM483.25 779.48h6.75v2.30h-6.75zM494.49 779.48h4.50v2.30h-4.50zM503.49 779.48h4.50v2.30h-4.50zM510.23 779.48h6.75v2.30h-6.75zM523.72 779.48h6.75v2.30h-6.75zM534.97 779.48h6.75v2.30h-6.75zM543.96 779.48h4.50v2.30h-4.50zM552.96 779.48h8.99v2.30h-8.99zM481.00 781.72h2.25v2.30h-2.25zM489.99 781.72h2.25v2.30h-2.25zM498.99 781.72h4.50v2.30h-4.50zM505.74 781.72h2.25v2.30h-2.25zM510.23 781.72h8.99v2.30h-8.99zM523.72 781.72h6.75v2.30h-6.75zM532.72 781.72h8.99v2.30h-8.99zM552.96 781.72h4.50v2.30h-4.50zM561.95 781.72h2.25v2.30h-2.25zM483.25 783.97h15.74v2.30h-15.74zM501.24 783.97h2.25v2.30h-2.25zM505.74 783.97h4.50v2.30h-4.50zM514.73 783.97h8.99v2.30h-8.99zM525.97 783.97h4.50v2.30h-4.50zM532.72 783.97h4.50v2.30h-4.50zM541.71 783.97h6.75v2.30h-6.75zM550.71 783.97h2.25v2.30h-2.25zM557.45 783.97h4.50v2.30h-4.50zM483.25 786.22h2.25v2.30h-2.25zM487.75 786.22h6.75v2.30h-6.75zM503.49 786.22h6.75v2.30h-6.75zM514.73 786.22h8.99v2.30h-8.99zM525.97 786.22h2.25v2.30h-2.25zM539.46 786.22h6.75v2.30h-6.75zM548.46 786.22h4.50v2.30h-4.50zM555.21 786.22h6.75v2.30h-6.75zM481.00 788.47h2.25v2.30h-2.25zM489.99 788.47h8.99v2.30h-8.99zM501.24 788.47h6.75v2.30h-6.75zM519.23 788.47h2.25v2.30h-2.25zM523.72 788.47h2.25v2.30h-2.25zM528.22 788.47h2.25v2.30h-2.25zM532.72 788.47h8.99v2.30h-8.99zM546.21 788.47h4.50v2.30h-4.50zM555.21 788.47h2.25v2.30h-2.25zM481.00 790.72h4.50v2.30h-4.50zM492.24 790.72h2.25v2.30h-2.25zM496.74 790.72h4.50v2.30h-4.50zM507.98 790.72h2.25v2.30h-2.25zM512.48 790.72h4.50v2.30h-4.50zM521.48 790.72h2.25v2.30h-2.25zM528.22 790.72h11.24v2.30h-11.24zM543.96 790.72h6.75v2.30h-6.75zM552.96 790.72h6.75v2.30h-6.75zM481.00 792.97h6.75v2.30h-6.75zM492.24 792.97h4.50v2.30h-4.50zM498.99 792.97h6.75v2.30h-6.75zM507.98 792.97h2.25v2.30h-2.25zM512.48 792.97h4.50v2.30h-4.50zM521.48 792.97h4.50v2.30h-4.50zM528.22 792.97h4.50v2.30h-4.50zM534.97 792.97h2.25v2.30h-2.25zM539.46 792.97h2.25v2.30h-2.25zM543.96 792.97h6.75v2.30h-6.75zM557.45 792.97h2.25v2.30h-2.25zM561.95 792.97h2.25v2.30h-2.25zM483.25 795.22h4.50v2.30h-4.50zM492.24 795.22h2.25v2.30h-2.25zM501.24 795.22h4.50v2.30h-4.50zM510.23 795.22h4.50v2.30h-4.50zM516.98 795.22h2.25v2.30h-2.25zM525.97 795.22h2.25v2.30h-2.25zM530.47 795.22h4.50v2.30h-4.50zM539.46 795.22h6.75v2.30h-6.75zM548.46 795.22h6.75v2.30h-6.75zM559.70 795.22h2.25v2.30h-2.25zM483.25 797.46h2.25v2.30h-2.25zM487.75 797.46h2.25v2.30h-2.25zM494.49 797.46h6.75v2.30h-6.75zM503.49 797.46h2.25v2.30h-2.25zM507.98 797.46h6.75v2.30h-6.75zM516.98 797.46h4.50v2.30h-4.50zM525.97 797.46h17.99v2.30h-17.99zM546.21 797.46h2.25v2.30h-2.25zM550.71 797.46h2.25v2.30h-2.25zM559.70 797.46h2.25v2.30h-2.25zM481.00 799.71h2.25v2.30h-2.25zM485.50 799.71h2.25v2.30h-2.25zM496.74 799.71h2.25v2.30h-2.25zM501.24 799.71h2.25v2.30h-2.25zM507.98 799.71h2.25v2.30h-2.25zM514.73 799.71h4.50v2.30h-4.50zM521.48 799.71h2.25v2.30h-2.25zM525.97 799.71h2.25v2.30h-2.25zM530.47 799.71h2.25v2.30h-2.25zM537.22 799.71h4.50v2.30h-4.50zM543.96 799.71h8.99v2.30h-8.99zM559.70 799.71h2.25v2.30h-2.25zM481.00 801.96h2.25v2.30h-2.25zM487.75 801.96h2.25v2.30h-2.25zM494.49 801.96h2.25v2.30h-2.25zM498.99 801.96h2.25v2.30h-2.25zM505.74 801.96h2.25v2.30h-2.25zM510.23 801.96h2.25v2.30h-2.25zM516.98 801.96h2.25v2.30h-2.25zM521.48 801.96h4.50v2.30h-4.50zM528.22 801.96h2.25v2.30h-2.25zM532.72 801.96h2.25v2.30h-2.25zM543.96 801.96h13.49v2.30h-13.49zM561.95 801.96h2.25v2.30h-2.25zM503.49 804.21h2.25v2.30h-2.25zM507.98 804.21h4.50v2.30h-4.50zM514.73 804.21h6.75v2.30h-6.75zM528.22 804.21h6.75v2.30h-6.75zM539.46 804.21h2.25v2.30h-2.25zM543.96 804.21h2.25v2.30h-2.25zM552.96 804.21h4.50v2.30h-4.50zM559.70 804.21h4.50v2.30h-4.50zM481.00 806.46h15.74v2.30h-15.74zM505.74 806.46h8.99v2.30h-8.99zM521.48 806.46h2.25v2.30h-2.25zM528.22 806.46h2.25v2.30h-2.25zM532.72 806.46h13.49v2.30h-13.49zM548.46 806.46h2.25v2.30h-2.25zM552.96 806.46h4.50v2.30h-4.50zM559.70 806.46h2.25v2.30h-2.25zM481.00 808.71h2.25v2.30h-2.25zM494.49 808.71h2.25v2.30h-2.25zM498.99 808.71h2.25v2.30h-2.25zM507.98 808.71h2.25v2.30h-2.25zM512.48 808.71h4.50v2.30h-4.50zM528.22 808.71h2.25v2.30h-2.25zM537.22 808.71h2.25v2.30h-2.25zM543.96 808.71h2.25v2.30h-2.25zM552.96 808.71h8.99v2.30h-8.99zM481.00 810.96h2.25v2.30h-2.25zM485.50 810.96h6.75v2.30h-6.75zM494.49 810.96h2.25v2.30h-2.25zM498.99 810.96h2.25v2.30h-2.25zM503.49 810.96h2.25v2.30h-2.25zM512.48 810.96h2.25v2.30h-2.25zM521.48 810.96h8.99v2.30h-8.99zM541.71 810.96h22.49v2.30h-22.49zM481.00 813.21h2.25v2.30h-2.25zM485.50 813.21h6.75v2.30h-6.75zM494.49 813.21h2.25v2.30h-2.25zM498.99 813.21h4.50v2.30h-4.50zM505.74 813.21h2.25v2.30h-2.25zM512.48 813.21h2.25v2.30h-2.25zM516.98 813.21h2.25v2.30h-2.25zM521.48 813.21h6.75v2.30h-6.75zM532.72 813.21h6.75v2.30h-6.75zM541.71 813.21h6.75v2.30h-6.75zM550.71 813.21h2.25v2.30h-2.25zM555.21 813.21h4.50v2.30h-4.50zM561.95 813.21h2.25v2.30h-2.25zM481.00 815.45h2.25v2.30h-2.25zM485.50 815.45h6.75v2.30h-6.75zM494.49 815.45h2.25v2.30h-2.25zM498.99 815.45h4.50v2.30h-4.50zM505.74 815.45h2.25v2.30h-2.25zM510.23 815.45h6.75v2.30h-6.75zM521.48 815.45h2.25v2.30h-2.25zM525.97 815.45h4.50v2.30h-4.50zM539.46 815.45h6.75v2.30h-6.75zM552.96 815.45h4.50v2.30h-4.50zM561.95 815.45h2.25v2.30h-2.25zM481.00 817.70h2.25v2.30h-2.25zM494.49 817.70h2.25v2.30h-2.25zM498.99 817.70h6.75v2.30h-6.75zM507.98 817.70h6.75v2.30h-6.75zM519.23 817.70h2.25v2.30h-2.25zM523.72 817.70h4.50v2.30h-4.50zM534.97 817.70h4.50v2.30h-4.50zM541.71 817.70h11.24v2.30h-11.24zM561.95 817.70h2.25v2.30h-2.25zM481.00 819.95h15.74v2.30h-15.74zM498.99 819.95h4.50v2.30h-4.50zM519.23 819.95h4.50v2.30h-4.50zM525.97 819.95h4.50v2.30h-4.50zM537.22 819.95h6.75v2.30h-6.75zM546.21 819.95h2.25v2.30h-2.25zM552.96 819.95h2.25v2.30h-2.25zM559.70 819.95h4.50v2.30h-4.50z" fill="#555"/>
<rect x="511.8" y="769.2" width="22.3" height="22.3" rx="1.5" fill="#f25a5f"/>
<g font-family="'Liberation Sans','Noto Sans CJK SC',sans-serif" font-size="9.6" fill="#fff" font-weight="400"><text x="512.8" y="779.3">以</text><text x="523" y="779.3">搜</text><text x="512.8" y="789.8">图</text><text x="523" y="789.8">版</text></g>
<path d="M497 833.2 Q528 824.5 573 838.3 Q535 830.2 497 833.2z" fill="#f0909c"/>
<text x="475.6" y="847.8" font-family="'Liberation Sans',sans-serif" font-weight="bold" font-size="22" fill="#f08a96" stroke="#f08a96" stroke-width="0.9" stroke-linejoin="round" textLength="96.5" lengthAdjust="spacingAndGlyphs">6xiu.com</text>
</svg>
</body></html>
